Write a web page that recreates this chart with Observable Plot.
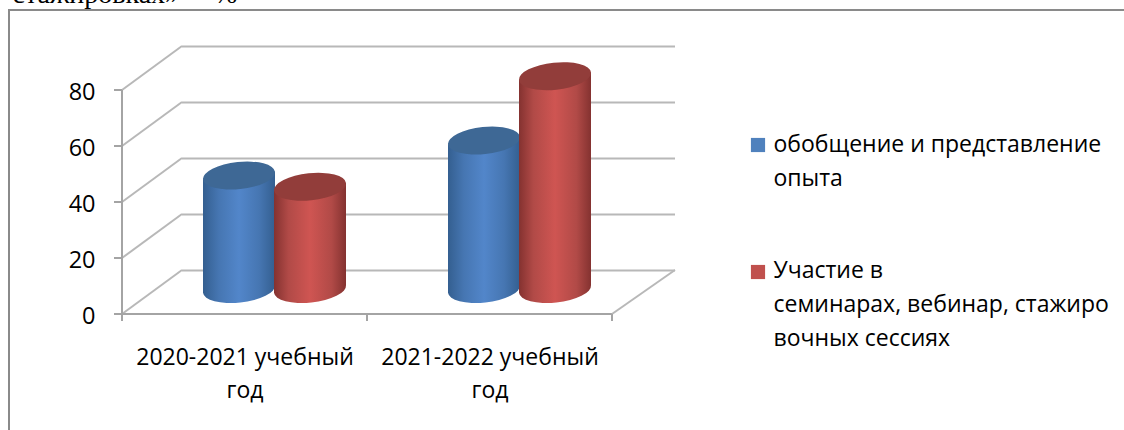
<!DOCTYPE html>
<html><head><meta charset="utf-8">
<script src="https://cdn.jsdelivr.net/npm/d3@7"></script>
<script src="https://cdn.jsdelivr.net/npm/@observablehq/plot@0.6"></script>
<style>html,body{margin:0;padding:0;background:#fff;overflow:hidden}svg{display:block}</style>
</head><body><div id="chart"></div>
<script>
const categories = ["2020-2021 учебный\nгод", "2021-2022 учебный\nгод"];
const seriesNames = ["обобщение и представление\nопыта", "Участие в\nсеминарах, вебинар, стажиро\nвочных сессиях"];
const experience = [40.5, 53];
const seminars = [36.5, 76];
const yTicks = [0, 20, 40, 60, 80];
const heading = "стажировках» –  %";

const rowsA = categories.map((c, i) => ({cat: c, value: experience[i]}));
const rowsB = categories.map((c, i) => ({cat: c, value: seminars[i]}));

const GRID = "#b8b8b8", AXIS = "#a4a4a4", FRAME = "#8a8a8a";
const depthX = 60, depthY = -44, midY = -25, rx = 36, ry = 13.5, tilt = -6, lift = 3.8;
const ns = "http://www.w3.org/2000/svg";
function el(name, attrs) {
  const e = document.createElementNS(ns, name);
  for (const k in attrs) e.setAttribute(k, attrs[k]);
  return e;
}

function defsMark() {
  const g = el("g", {});
  const defs = el("defs", {});
  const make = (id, stops) => {
    const lg = el("linearGradient", {id, x1: 0, x2: 1, y1: 0, y2: 0});
    stops.forEach(([o, c]) => lg.appendChild(el("stop", {offset: o, "stop-color": c})));
    defs.appendChild(lg);
  };
  make("gb", [[0, "#345f90"], [0.22, "#4676b2"], [0.5, "#5286ca"], [0.78, "#4676b2"], [1, "#345f90"]]);
  make("gr", [[0, "#843230"], [0.2, "#b14a47"], [0.5, "#cf5552"], [0.8, "#b14a47"], [1, "#843230"]]);
  g.appendChild(defs);
  return g;
}

function wallMark(index, {x, y}) {
  const g = el("g", {fill: "none", stroke: GRID, "stroke-width": 2});
  const x0 = x.range()[0], x1 = x.range()[1];
  for (const t of yTicks) {
    g.appendChild(el("line", {x1: x0, y1: y(t), x2: x0 + depthX, y2: y(t) + depthY}));
    g.appendChild(el("line", {x1: x0 - 8, y1: y(t), x2: x0, y2: y(t), stroke: AXIS}));
  }
  const y0 = y(0);
  g.appendChild(el("line", {x1: x0, y1: y(yTicks[yTicks.length - 1]), x2: x0, y2: y0, stroke: AXIS}));
  g.appendChild(el("line", {x1: x0, y1: y0, x2: x1, y2: y0, stroke: AXIS}));
  g.appendChild(el("line", {x1: x1, y1: y0, x2: x1 + depthX + 3, y2: y0 + depthY}));
  const bw = x.bandwidth();
  [0, 1, 2].forEach(i => {
    const px = x0 + i * bw;
    g.appendChild(el("line", {x1: px, y1: y0, x2: px, y2: y0 + 7, stroke: AXIS}));
  });
  return g;
}

function bases(rows, offset, fill) {
  return (index, {x, y}) => {
    const g = el("g", {});
    for (const r of rows) {
      const cx = x(r.cat) + x.bandwidth() / 2 + offset, cy = y(0) + midY;
      g.appendChild(el("path", {fill, d:
        `M${cx - rx} ${cy - 12}V${cy + lift}A${rx} ${ry} ${tilt} 0 0 ${cx + rx} ${cy - lift}V${cy - 12}Z`}));
    }
    return g;
  };
}
function lids(rows, offset, fill, lid) {
  return (index, {x, y}) => {
    const g = el("g", {});
    for (const r of rows) {
      const cx = x(r.cat) + x.bandwidth() / 2 + offset, cy = y(r.value) + midY;
      g.appendChild(el("path", {fill, d:
        `M${cx - rx} ${cy + lift}L${cx + rx} ${cy - lift}V${cy + 12}H${cx - rx}Z`}));
      g.appendChild(el("path", {fill: lid, d:
        `M${cx - rx} ${cy + lift}A${rx} ${ry} ${tilt} 0 1 ${cx + rx} ${cy - lift}A${rx} ${ry} ${tilt} 0 1 ${cx - rx} ${cy + lift}Z`}));
    }
    return g;
  };
}

const textFont = "'Open Sans', sans-serif";
const legendText = (label, top) => Plot.text([label], {
  frameAnchor: "top-left", dx: 773 - 122, dy: top - 90, text: d => d,
  textAnchor: "start", lineAnchor: "top", lineHeight: 1.46, fontSize: 23, fill: "#000", fontFamily: textFont
});
const legendSwatch = (fill, top) => Plot.dot([0], {
  frameAnchor: "top-left", dx: 757.5 - 122, dy: top - 90, r: 8, symbol: "square", fill
});

const chart = Plot.plot({
  width: 1124, height: 430,
  marginLeft: 122, marginRight: 512, marginTop: 90, marginBottom: 116,
  style: {background: "#fff", fontFamily: textFont, overflow: "visible"},
  x: {domain: categories, padding: 0, axis: null},
  y: {domain: [0, 80], axis: null},
  marks: [
    defsMark,
    Plot.text([heading], {frameAnchor: "top-left", dx: 12 - 122, dy: 2 - 90, text: d => d, textAnchor: "start", lineAnchor: "bottom",
      fontSize: 28, fontFamily: "'Liberation Serif', serif", fill: "#000", style: {letterSpacing: "3.2px"}}),
    () => {
      const g = el("g", {fill: "none", stroke: FRAME, "stroke-width": 2});
      g.appendChild(el("path", {d: "M1124 10H9V430"}));
      return g;
    },
    Plot.ruleY(yTicks, {y: d => d, dx: depthX, dy: depthY, insetRight: -3, stroke: GRID, strokeWidth: 2}),
    wallMark,
    Plot.axisY(yTicks, {anchor: "left", tickSize: 0, tickPadding: 27, dy: 2, fontSize: 23.5, fill: "#000", fontFamily: textFont, label: null}),
    Plot.axisX({anchor: "bottom", tickSize: 0, tickPadding: 27, fontSize: 23, lineHeight: 1.44, fill: "#000", fontFamily: textFont, label: null, tickFormat: d => d}),
    bases(rowsA, -5.5, "url(#gb)"),
    Plot.barY(rowsA, {x: "cat", y: "value", fill: "url(#gb)", dy: midY, insetLeft: 81, insetRight: 92, insetTop: 6, insetBottom: 6}),
    lids(rowsA, -5.5, "url(#gb)", "#3e6895"),
    bases(rowsB, 65.5, "url(#gr)"),
    Plot.barY(rowsB, {x: "cat", y: "value", fill: "url(#gr)", dy: midY, insetLeft: 152, insetRight: 21, insetTop: 6, insetBottom: 6}),
    lids(rowsB, 65.5, "url(#gr)", "#923d3a"),
    legendSwatch("#4f81bd", 144.5),
    legendText(seriesNames[0], 128),
    legendSwatch("#c0504d", 271.5),
    legendText(seriesNames[1], 254)
  ]
});
document.getElementById("chart").appendChild(chart);
</script>
</body></html>
